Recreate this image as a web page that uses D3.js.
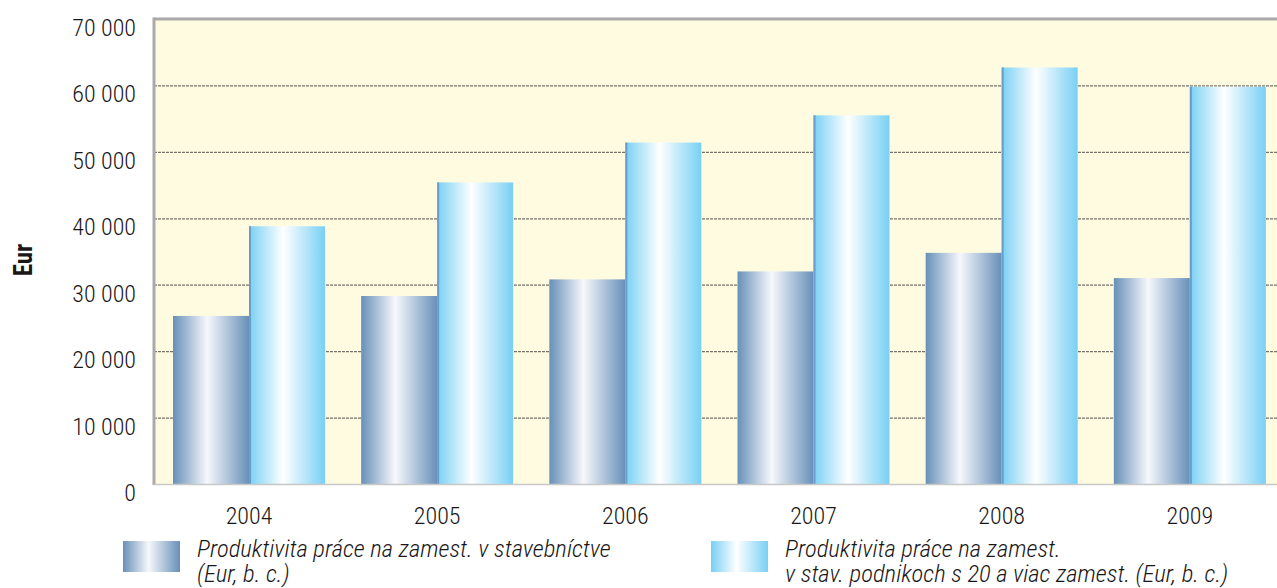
<!DOCTYPE html>
<html>
<head>
<meta charset="utf-8">
<script src="https://cdn.jsdelivr.net/npm/d3@7"></script>
<style>
  body { margin: 0; background: #fff; }
  svg text { font-family: "Roboto Condensed", "Liberation Sans", sans-serif; fill: #1a1718; font-weight: 300; }
</style>
</head>
<body>
<svg width="1277" height="588"></svg>
<script>
var years = ["2004", "2005", "2006", "2007", "2008", "2009"];
var stavebnictvo = [25300, 28300, 30800, 32000, 34800, 31000];
var podniky20 = [38800, 45400, 51400, 55500, 62700, 59800];
var yTicks = [0, 10000, 20000, 30000, 40000, 50000, 60000, 70000];
var legendLabels = [
  ["Produktivita práce na zamest. v stavebníctve", "(Eur, b. c.)"],
  ["Produktivita práce na zamest.", "v stav. podnikoch s 20 a viac zamest. (Eur, b. c.)"]
];

var svg = d3.select("svg");
var plot = {left: 154, top: 19, right: 1283, bottom: 484};

var x = d3.scaleBand().domain(years).range([plot.left, plot.right]);
var y = d3.scaleLinear().domain([0, 70000]).range([plot.bottom, plot.top]);
var barW = 76, offset = 19;

// gradients
var defs = svg.append("defs");
function grad(id, edge, mid) {
  var g = defs.append("linearGradient").attr("id", id)
      .attr("x1", "0%").attr("x2", "100%").attr("y1", "0%").attr("y2", "0%");
  g.append("stop").attr("offset", "0%").attr("stop-color", edge);
  g.append("stop").attr("offset", "45%").attr("stop-color", mid);
  g.append("stop").attr("offset", "100%").attr("stop-color", edge);
}
grad("gDark", "#6790b8", "#f7f8fc");
grad("gLight", "#78d0f4", "#ffffff");

// background
svg.append("rect")
    .attr("x", plot.left).attr("y", plot.top)
    .attr("width", plot.right - plot.left).attr("height", plot.bottom - plot.top)
    .attr("fill", "#fffbe0");

// grid
svg.append("g").selectAll("line")
  .data(yTicks.filter(function(d) { return d > 0 && d < 70000; }))
  .enter().append("line")
    .attr("x1", plot.left).attr("x2", plot.right)
    .attr("y1", function(d) { return y(d) + 0.5; })
    .attr("y2", function(d) { return y(d) + 0.5; })
    .attr("stroke", "#77736a").attr("stroke-width", 1.2)
    .attr("stroke-dasharray", "3,1");

// bars
var g = svg.append("g");
g.selectAll(".dark").data(stavebnictvo).enter().append("rect")
    .attr("x", function(d, i) { return x(years[i]) + offset; })
    .attr("y", function(d) { return y(d); })
    .attr("width", barW)
    .attr("height", function(d) { return plot.bottom - y(d); })
    .attr("fill", "url(#gDark)");
g.selectAll(".light").data(podniky20).enter().append("rect")
    .attr("x", function(d, i) { return x(years[i]) + offset + barW; })
    .attr("y", function(d) { return y(d); })
    .attr("width", barW)
    .attr("height", function(d) { return plot.bottom - y(d); })
    .attr("fill", "url(#gLight)");
g.selectAll(".edge").data(podniky20).enter().append("rect")
    .attr("x", function(d, i) { return x(years[i]) + offset + barW; })
    .attr("y", function(d) { return y(d); })
    .attr("width", 2)
    .attr("height", function(d) { return plot.bottom - y(d); })
    .attr("fill", "#6a9ccc");

// frame
svg.append("line").attr("x1", plot.left).attr("x2", plot.right)
    .attr("y1", plot.top).attr("y2", plot.top)
    .attr("stroke", "#aaaaaa").attr("stroke-width", 3);
svg.append("line").attr("x1", plot.left).attr("x2", plot.left)
    .attr("y1", plot.top - 1.5).attr("y2", plot.bottom + 1)
    .attr("stroke", "#aaaaaa").attr("stroke-width", 3);
svg.append("line").attr("x1", plot.left).attr("x2", plot.right)
    .attr("y1", plot.bottom + 0.5).attr("y2", plot.bottom + 0.5)
    .attr("stroke", "#c8c8c8").attr("stroke-width", 1.5);

// y axis labels
var fmt = function(d) { return d3.format(",")(d).replace(/,/g, " "); };
svg.append("g").selectAll("text").data(yTicks).enter().append("text")
    .attr("x", 136).attr("y", function(d) { return y(d) + 17; })
    .attr("text-anchor", "end").attr("font-size", 24)
    .text(fmt);

// x labels
svg.append("g").selectAll("text").data(years).enter().append("text")
    .attr("x", function(d) { return x(d) + offset + barW; })
    .attr("y", 524).attr("text-anchor", "middle").attr("font-size", 24)
    .text(function(d) { return d; });

// axis title
svg.append("text")
    .attr("transform", "translate(32,260) rotate(-90)")
    .attr("text-anchor", "middle").attr("font-size", 25)
    .style("font-weight", "bold")
    .text("Eur");

// legend
var legendPos = [{sx: 123, tx: 197, fill: "url(#gDark)"}, {sx: 711, tx: 785, fill: "url(#gLight)"}];
legendPos.forEach(function(p, i) {
  svg.append("rect").attr("x", p.sx).attr("y", 541).attr("width", 57).attr("height", 31).attr("fill", p.fill);
  legendLabels[i].forEach(function(line, j) {
    svg.append("text").attr("x", p.tx).attr("y", 557 + j * 24.5)
        .attr("font-size", 24.7).attr("font-style", "italic")
        .text(line);
  });
});
</script>
</body>
</html>
